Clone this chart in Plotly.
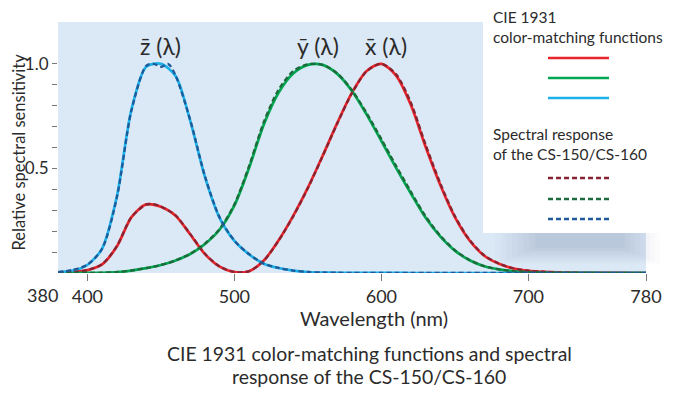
import plotly.graph_objects as go

# ---- data (normalised CIE 1931 colour-matching functions) ----
wavelength = [380, 390, 400, 410, 420, 430, 440, 450, 460, 470, 480, 490, 500, 510, 520,
              530, 540, 550, 560, 570, 580, 590, 600, 610, 620, 630, 640, 650, 660, 670,
              680, 690, 700, 710, 720, 730, 740, 750, 760, 770, 780]
x_bar = [0.0013, 0.0040, 0.0135, 0.0410, 0.1265, 0.2673, 0.3279, 0.3165, 0.2738, 0.1839,
         0.0900, 0.0301, 0.0046, 0.0088, 0.0596, 0.1558, 0.2734, 0.4081, 0.5597, 0.7175,
         0.8626, 0.9662, 1.0000, 0.9439, 0.8044, 0.6048, 0.4217, 0.2669, 0.1552, 0.0823,
         0.0440, 0.0214, 0.0107, 0.0055, 0.0027, 0.0014, 0.0006, 0.0003, 0.0002, 0.0001, 0.0000]
y_bar = [0.0000, 0.0001, 0.0004, 0.0012, 0.0040, 0.0116, 0.0230, 0.0380, 0.0600, 0.0910,
         0.1390, 0.2080, 0.3230, 0.5030, 0.7100, 0.8620, 0.9540, 0.9950, 0.9950, 0.9520,
         0.8700, 0.7570, 0.6310, 0.5030, 0.3810, 0.2650, 0.1750, 0.1070, 0.0610, 0.0320,
         0.0170, 0.0082, 0.0041, 0.0021, 0.0010, 0.0005, 0.0002, 0.0001, 0.0001, 0.0000, 0.0000]
z_bar = [0.0036, 0.0113, 0.0383, 0.1170, 0.3643, 0.7819, 0.9859, 1.0000, 0.9419, 0.7266,
         0.4587, 0.2625, 0.1535, 0.0893, 0.0442, 0.0238, 0.0115, 0.0049, 0.0022, 0.0012,
         0.0009, 0.0006, 0.0005, 0.0002, 0.0001, 0.0000, 0.0000, 0.0000, 0.0000, 0.0000,
         0.0000, 0.0000, 0.0000, 0.0000, 0.0000, 0.0000, 0.0000, 0.0000, 0.0000, 0.0000, 0.0000]

# ---- CS-150/CS-160 spectral response (dashed) ----
wavelength_cs = [380, 390, 400, 410, 420, 430, 440, 445, 450, 455, 460, 470, 480, 490, 500,
                 510, 520, 530, 540, 550, 560, 570, 580, 590, 600, 610, 620, 630, 640, 650,
                 660, 670, 680, 690, 700, 710, 720, 730, 740, 750, 760, 770, 780]
x_cs = [0.0015, 0.0045, 0.0140, 0.0420, 0.1280, 0.2680, 0.3270, 0.3290, 0.3180, 0.2990,
        0.2760, 0.1860, 0.0920, 0.0310, 0.0050, 0.0090, 0.0590, 0.1540, 0.2710, 0.4060,
        0.5580, 0.7150, 0.8600, 0.9650, 1.0000, 0.9500, 0.8150, 0.6150, 0.4300, 0.2720,
        0.1580, 0.0840, 0.0450, 0.0220, 0.0110, 0.0060, 0.0030, 0.0015, 0.0007, 0.0004,
        0.0002, 0.0001, 0.0000]
y_cs = [0.0000, 0.0001, 0.0004, 0.0012, 0.0042, 0.0120, 0.0235, 0.0300, 0.0385, 0.0480,
        0.0605, 0.0920, 0.1410, 0.2110, 0.3280, 0.5120, 0.7220, 0.8760, 0.9650, 0.9980,
        0.9950, 0.9540, 0.8740, 0.7640, 0.6400, 0.5120, 0.3890, 0.2720, 0.1790, 0.1090,
        0.0620, 0.0325, 0.0172, 0.0083, 0.0042, 0.0021, 0.0010, 0.0005, 0.0002, 0.0001,
        0.0001, 0.0000, 0.0000]
z_cs = [0.0040, 0.0150, 0.0400, 0.1160, 0.3600, 0.7780, 0.9900, 1.0000, 0.9860, 0.9990,
        0.9440, 0.7300, 0.4620, 0.2650, 0.1550, 0.0900, 0.0450, 0.0240, 0.0118, 0.0050,
        0.0023, 0.0012, 0.0009, 0.0006, 0.0005, 0.0002, 0.0001, 0.0000, 0.0000, 0.0000,
        0.0000, 0.0000, 0.0000, 0.0000, 0.0000, 0.0000, 0.0000, 0.0000, 0.0000, 0.0000,
        0.0000, 0.0000, 0.0000]

x_tickvals = [400, 500, 600, 700, 780]
x_ticktext = ["400", "500", "600", "700", "780"]
y_tickvals = [0.1, 0.2, 0.3, 0.4, 0.5, 0.6, 0.7, 0.8, 0.9, 1.0]
y_ticktext = ["", "", "", "", "0.5", "", "", "", "", "1.0"]

FONT = "Lato"
TXT = "#2b2b2b"
RED, GREEN, CYAN = "#e8252b", "#00a651", "#1cb1e9"
DRED, DGREEN, DBLUE = "#8a2331", "#1d6b3b", "#1e5a98"

fig = go.Figure()
for y, c in [(x_bar, RED), (y_bar, GREEN), (z_bar, CYAN)]:
    fig.add_trace(go.Scatter(x=wavelength, y=y, mode="lines",
                             line=dict(color=c, width=2.7, shape="spline", smoothing=0.8),
                             showlegend=False, hoverinfo="skip"))
for y, c in [(x_cs, DRED), (y_cs, DGREEN), (z_cs, DBLUE)]:
    fig.add_trace(go.Scatter(x=wavelength_cs, y=y, mode="lines",
                             line=dict(color=c, width=2.3, dash="5px,3px", shape="spline", smoothing=0.8),
                             showlegend=False, hoverinfo="skip"))

# pixel helpers (screen coords of the reference; plot spans x 58..646, y 22..273)
def px(xp):
    return (xp - 58) / 588
def py(yp):
    return (273 - yp) / 251

L, R = 483, 646
shapes = []
for i in range(8):
    t = i / 7
    shapes.append(dict(type="rect", xref="paper", yref="paper", layer="below",
                       x0=px(495 + 40 * t), x1=px(660 - 35 * t),
                       y0=py(264 - 16 * t), y1=py(200),
                       line=dict(width=0), fillcolor="rgba(80,100,130,%.3f)" % (0.02 + 0.02 * t)))
shapes.append(dict(type="rect", xref="paper", yref="paper", layer="above",
                   x0=px(L), x1=px(R + 30), y0=py(233), y1=py(-10),
                   line=dict(width=0), fillcolor="white"))
for yy, c, d in [(58, RED, False), (78, GREEN, False), (98, CYAN, False),
                 (178, DRED, True), (199, DGREEN, True), (219, DBLUE, True)]:
    shapes.append(dict(type="line", xref="paper", yref="paper", layer="above",
                       x0=px(548), x1=px(609), y0=py(yy), y1=py(yy),
                       line=dict(color=c, width=2.4, dash="5px,3px" if d else "solid")))

def note(text, xp, yp, size, **kw):
    d = dict(text=text, xref="paper", yref="paper", x=px(xp), y=py(yp), showarrow=False,
             xanchor="center", yanchor="middle", font=dict(size=size, color=TXT, family=FONT))
    d.update(kw)
    return d

ann = [
    dict(text="z\u0304 (λ)", x=450, y=1.085, xref="x", yref="y", showarrow=False,
         xanchor="center", yanchor="middle", font=dict(size=23, color=TXT, family=FONT)),
    dict(text="y\u0304 (λ)", x=557, y=1.085, xref="x", yref="y", showarrow=False,
         xanchor="center", yanchor="middle", font=dict(size=23, color=TXT, family=FONT)),
    dict(text="x\u0304 (λ)", x=603, y=1.085, xref="x", yref="y", showarrow=False,
         xanchor="center", yanchor="middle", font=dict(size=23, color=TXT, family=FONT)),
    dict(text="380", x=380, y=0, xref="x", yref="y", showarrow=False, xanchor="right",
         yanchor="top", xshift=2, yshift=-9, font=dict(size=18, color=TXT, family=FONT)),
    note("CIE 1931<br>color-matching functions", 491, 6, 15.5, xanchor="left", yanchor="top", align="left"),
    note("Spectral response<br>of the CS-150/CS-160", 491, 123, 15.5, xanchor="left", yanchor="top", align="left"),
    note("Relative spectral sensitivity", 18.5, 152, 16.5, textangle=-90),
    note("Wavelength (nm)", 374, 318, 20),
    note("CIE 1931 color-matching functions and spectral", 369, 353, 19.4),
    note("response of the CS-150/CS-160", 369, 376, 19.4),
]

# the page adds an 8px body margin, so the figure is 8px smaller and shifted
fig.update_layout(
    width=692, height=390,
    margin=dict(l=50, r=54, t=14, b=125),
    paper_bgcolor="white", plot_bgcolor="#dbe8f5",
    font=dict(family=FONT, color=TXT, size=18),
    shapes=shapes, annotations=ann,
    xaxis=dict(range=[380, 780], tickvals=x_tickvals, ticktext=x_ticktext,
               ticks="outside", ticklen=7, tickcolor="#777", tickwidth=1,
               showgrid=False, zeroline=False, showline=False,
               tickfont=dict(size=18, color=TXT, family=FONT)),
    yaxis=dict(range=[0, 1.2], tickvals=y_tickvals, ticktext=y_ticktext,
               ticks="outside", ticklen=5, tickcolor="#777", tickwidth=1,
               showgrid=False, zeroline=False, showline=False,
               tickfont=dict(size=17, color=TXT, family=FONT)),
)

fig.write_html("out.html")
